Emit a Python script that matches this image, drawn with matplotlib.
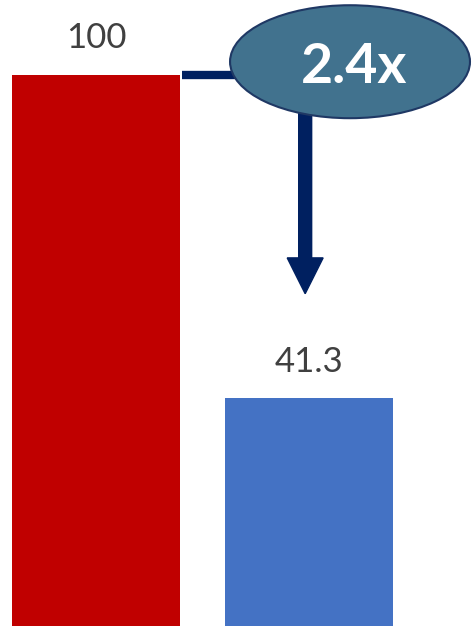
import matplotlib.pyplot as plt
from matplotlib.patches import Ellipse, FancyArrow

# data
categories = ['Before', 'After']
values = [100, 41.3]
bar_colors = ['#C00000', '#4472C4']
speedup_label = '2.4x'

plt.rcParams['font.family'] = ['Lato', 'DejaVu Sans']

fig = plt.figure(figsize=(4.72, 6.26), dpi=100)
ax = fig.add_axes([0, 0, 1, 1])

pos = list(range(len(categories)))
ax.bar(pos, values, width=0.79, color=bar_colors, zorder=2)

for x, v in zip(pos, values):
    ax.text(x, v + 4.8, f'{v:g}', ha='center', va='baseline',
            fontsize=25, color='#404040')

ax.set_xlim(-0.452, 1.769)
ax.set_ylim(0, 113.6)
ax.axis('off')

navy = '#002060'
# horizontal connector from top of first bar into the ellipse
ax.plot([0.405, 1.05], [values[0], values[0]], color=navy, lw=6,
        solid_capstyle='butt', zorder=3)

# vertical arrow down toward second bar
arr = FancyArrow(0.984, 95, 0, 60.3 - 95, width=0.061, head_width=0.169,
                 head_length=6.5, length_includes_head=True,
                 color=navy, zorder=3)
ax.add_patch(arr)

# ellipse badge
ell = Ellipse((1.195, 102.4), 1.129, 20.5, facecolor='#41728E',
              edgecolor='#1F3864', lw=1.5, zorder=4)
ax.add_patch(ell)
ax.text(1.214, 98.5, speedup_label, ha='center', va='baseline',
        fontsize=40, fontweight='bold', color='white', zorder=5)

fig.savefig('out.png', dpi=100)
